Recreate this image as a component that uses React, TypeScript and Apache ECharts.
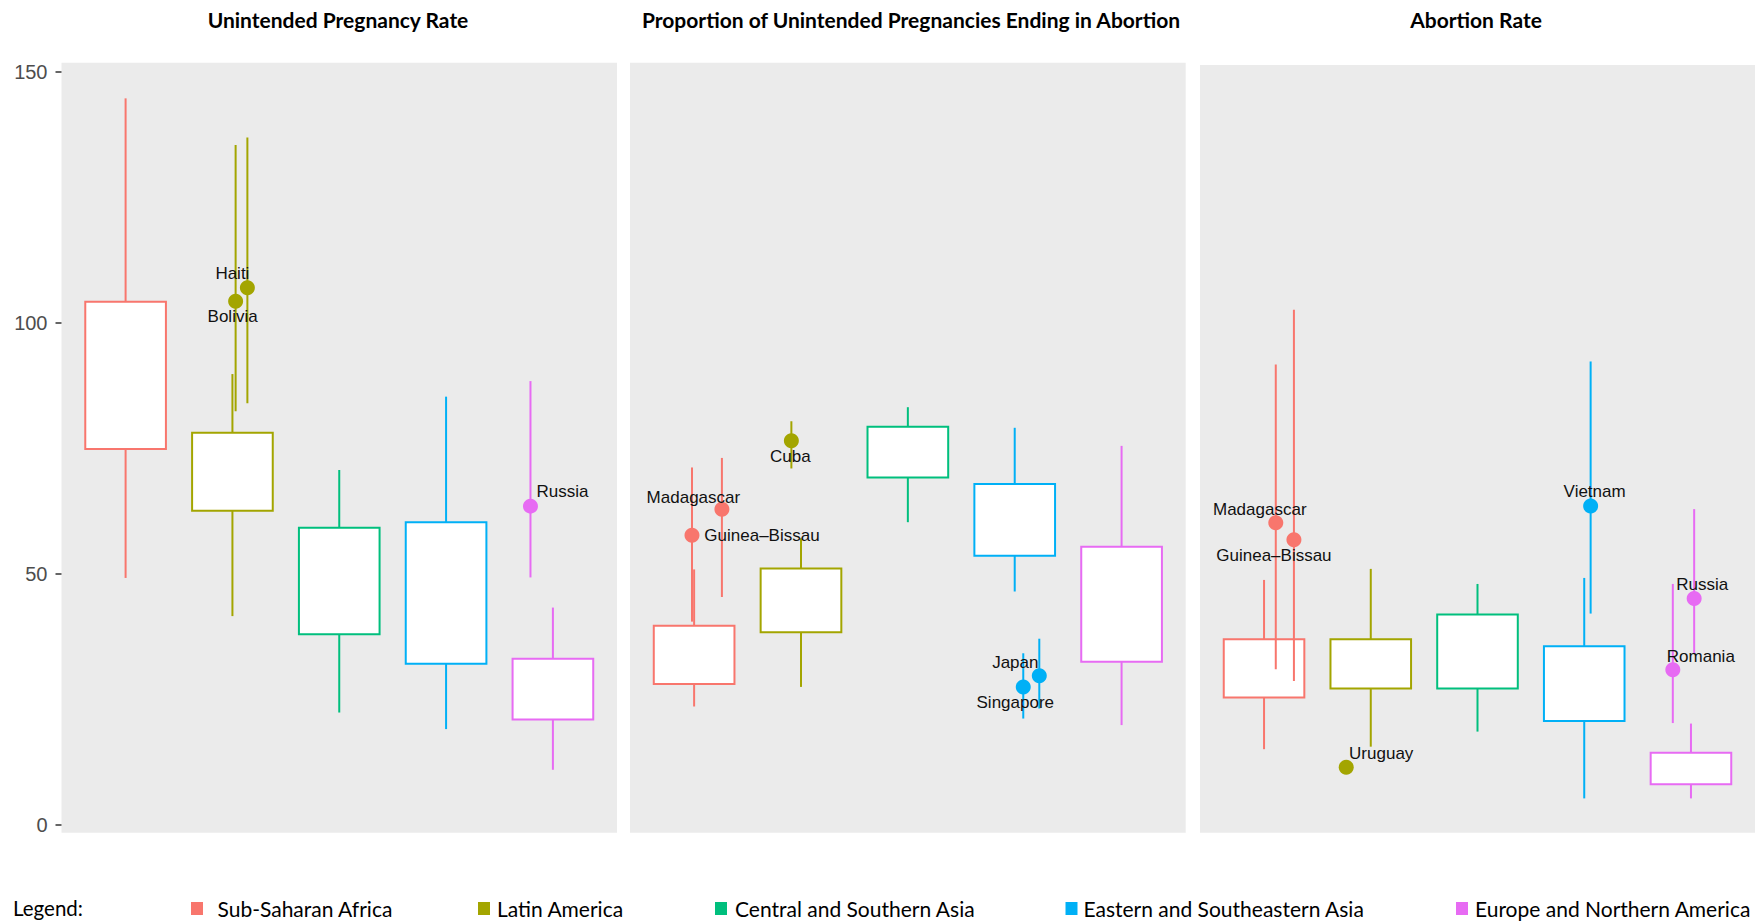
import React, { useEffect, useRef } from 'react';
import * as echarts from 'echarts';

// ---------- data ----------
const regions = [
  'Sub-Saharan Africa',
  'Latin America',
  'Central and Southern Asia',
  'Eastern and Southeastern Asia',
  'Europe and Northern America',
];
const regionColors = ['#F8766D', '#A3A500', '#00BF7D', '#00B0F6', '#E76BF3'];
const panelTitles = [
  'Unintended Pregnancy Rate',
  'Proportion of Unintended Pregnancies Ending in Abortion',
  'Abortion Rate',
];
const yTickValues = [0, 50, 100, 150];
const regionPositions = [1, 2, 3, 4, 5];

// Panel 1: Unintended Pregnancy Rate (whisker low, box low, box high, whisker high)
const upLow = [49.2, 41.6, 22.4, 19.1, 11.0];
const upQ1 = [74.9, 62.6, 38.0, 32.1, 21.0];
const upQ3 = [104.2, 78.1, 59.2, 60.3, 33.1];
const upHigh = [144.7, 89.8, 70.7, 85.3, 43.3];

// Panel 2: Proportion of Unintended Pregnancies Ending in Abortion
const propLow = [23.6, 27.5, 60.3, 46.5, 19.9];
const propQ1 = [28.1, 38.4, 69.2, 53.6, 32.5];
const propQ3 = [39.7, 51.1, 79.3, 67.9, 55.4];
const propHigh = [50.9, 57.1, 83.2, 79.1, 75.5];

// Panel 3: Abortion Rate
const abLow = [15.1, 15.6, 18.6, 5.3, 5.3];
const abQ1 = [25.4, 27.2, 27.2, 20.7, 8.1];
const abQ3 = [37.0, 37.0, 41.9, 35.6, 14.4];
const abHigh = [48.8, 51.0, 48.0, 49.2, 20.2];

// Highlighted countries
const upCountries = ['Bolivia', 'Haiti', 'Russia'];
const upCountryRegion = [1, 1, 4];
const upCountryX = [2.03, 2.14, 4.79];
const upCountryValue = [104.3, 107.0, 63.5];
const upCountryLow = [82.4, 84.0, 49.3];
const upCountryHigh = [135.4, 136.9, 88.4];

const propCountries = ['Madagascar', 'Guinea–Bissau', 'Cuba', 'Japan', 'Singapore'];
const propCountryRegion = [0, 0, 1, 3, 3];
const propCountryX = [1.26, 0.98, 1.91, 4.23, 4.08];
const propCountryValue = [62.9, 57.7, 76.5, 29.7, 27.5];
const propCountryLow = [45.4, 40.5, 71.0, 23.2, 21.2];
const propCountryHigh = [73.1, 71.2, 80.4, 37.1, 34.2];

const abCountries = ['Madagascar', 'Guinea–Bissau', 'Uruguay', 'Vietnam', 'Russia', 'Romania'];
const abCountryRegion = [0, 0, 1, 3, 4, 4];
const abCountryX = [1.11, 1.28, 1.77, 4.06, 5.03, 4.83];
const abCountryValue = [60.2, 56.8, 11.5, 63.5, 45.1, 30.9];
const abCountryLow = [31.0, 28.7, 11.5, 42.1, 34.2, 20.3];
const abCountryHigh = [91.7, 102.6, 11.5, 92.3, 62.9, 48.0];

// ---------- layout / style ----------
const labelOffsets: Record<string, number[]>[] = [
  { Bolivia: [-3, 15], Haiti: [-15, -14], Russia: [32, -14.5] },
  {
    Madagascar: [-28.5, -12],
    'Guinea–Bissau': [70, 0],
    Cuba: [-1, 16],
    Japan: [-24, -13.5],
    Singapore: [-8, 15.5],
  },
  {
    Madagascar: [-16, -13.5],
    'Guinea–Bissau': [-20, 15.5],
    Uruguay: [35, -13.5],
    Vietnam: [4, -14.5],
    Russia: [8, -14.5],
    Romania: [28, -13.5],
  },
];
const grids = [
  { left: 61.5, top: 62.7, width: 555.5, height: 770, yMax: 151.8 },
  { left: 630, top: 62.7, width: 555.7, height: 770, yMax: 151.8 },
  { left: 1200, top: 65, width: 555, height: 767.7, yMax: 151.33 },
];
const yMin = -1.53;
const titleCenters = [338, 911, 1476];
const legendIconX = [191, 478, 715, 1065.5, 1456];
const legendTextX = [217.5, 497, 735, 1083.5, 1475];
const boxWidth = 0.755;
const lineW = 2;

const panels = [
  {
    low: upLow, q1: upQ1, q3: upQ3, high: upHigh,
    cn: upCountries, cr: upCountryRegion, cx: upCountryX, cv: upCountryValue, cl: upCountryLow, ch: upCountryHigh,
  },
  {
    low: propLow, q1: propQ1, q3: propQ3, high: propHigh,
    cn: propCountries, cr: propCountryRegion, cx: propCountryX, cv: propCountryValue, cl: propCountryLow, ch: propCountryHigh,
  },
  {
    low: abLow, q1: abQ1, q3: abQ3, high: abHigh,
    cn: abCountries, cr: abCountryRegion, cx: abCountryX, cv: abCountryValue, cl: abCountryLow, ch: abCountryHigh,
  },
];

function buildOption() {
  const series: any[] = [];
  panels.forEach((p, pi) => {
    regions.forEach((reg, ri) => {
      const color = regionColors[ri];
      // box
      series.push({
        type: 'custom',
        name: reg,
        xAxisIndex: pi,
        yAxisIndex: pi,
        z: 2,
        itemStyle: { color },
        encode: { x: 0, y: [1, 2, 3, 4] },
        data: [[regionPositions[ri], p.low[ri], p.q1[ri], p.q3[ri], p.high[ri]]],
        renderItem: (params: any, api: any) => {
          const x = api.value(0);
          const pLo = api.coord([x, api.value(1)]);
          const pQ1 = api.coord([x, api.value(2)]);
          const pQ3 = api.coord([x, api.value(3)]);
          const pHi = api.coord([x, api.value(4)]);
          const w = api.size([boxWidth, 0])[0];
          return {
            type: 'group',
            children: [
              { type: 'line', shape: { x1: pLo[0], y1: pLo[1], x2: pQ1[0], y2: pQ1[1] }, style: { stroke: color, lineWidth: lineW } },
              { type: 'line', shape: { x1: pQ3[0], y1: pQ3[1], x2: pHi[0], y2: pHi[1] }, style: { stroke: color, lineWidth: lineW } },
              {
                type: 'rect',
                shape: { x: pQ3[0] - w / 2, y: pQ3[1], width: w, height: pQ1[1] - pQ3[1] },
                style: { fill: '#ffffff', stroke: color, lineWidth: lineW },
              },
            ],
          };
        },
      });
      // country error bars + points
      const idx = p.cr.map((r, i) => (r === ri ? i : -1)).filter((i) => i >= 0);
      if (idx.length) {
        series.push({
          type: 'custom',
          name: reg,
          xAxisIndex: pi,
          yAxisIndex: pi,
          z: 3,
          itemStyle: { color },
          encode: { x: 0, y: [1, 2] },
          data: idx.map((i) => [p.cx[i], p.cl[i], p.ch[i]]),
          renderItem: (params: any, api: any) => {
            const x = api.value(0);
            const a = api.coord([x, api.value(1)]);
            const b = api.coord([x, api.value(2)]);
            return { type: 'line', shape: { x1: a[0], y1: a[1], x2: b[0], y2: b[1] }, style: { stroke: color, lineWidth: lineW } };
          },
        });
        series.push({
          type: 'scatter',
          name: reg,
          xAxisIndex: pi,
          yAxisIndex: pi,
          z: 4,
          symbol: 'circle',
          symbolSize: 15,
          itemStyle: { color, opacity: 1 },
          data: idx.map((i) => ({
            name: p.cn[i],
            value: [p.cx[i], p.cv[i]],
            label: {
              show: true,
              position: 'inside',
              offset: labelOffsets[pi][p.cn[i]] || [0, 0],
              formatter: p.cn[i],
              color: '#111111',
              fontSize: 17,
              fontFamily: 'Liberation Sans, Arial, sans-serif',
            },
          })),
        });
      }
    });
  });

  const graphic: any[] = panelTitles.map((t, i) => ({
    type: 'text',
    x: titleCenters[i],
    y: 19,
    style: {
      text: t,
      align: 'center',
      verticalAlign: 'middle',
      fontFamily: 'Lato, sans-serif',
      fontWeight: 'bold',
      fontSize: 21,
      fill: '#000000',
    },
  }));
  graphic.push({
    type: 'text',
    x: 13,
    y: 908,
    style: {
      text: 'Legend:',
      align: 'left',
      verticalAlign: 'middle',
      fontFamily: 'Lato, sans-serif',
      fontSize: 20.5,
      fill: '#000000',
    },
  });

  const legend = regions.map((reg, i) => ({
    data: [reg],
    left: legendIconX[i],
    top: 898,
    padding: 0,
    icon: 'rect',
    itemWidth: 12,
    itemHeight: 13,
    selectedMode: false,
    textStyle: {
      fontFamily: 'Lato, sans-serif',
      fontSize: 21,
      color: '#000000',
      lineHeight: 20,
      padding: [0, 0, 0, Math.max(0, legendTextX[i] - legendIconX[i] - 12 - 5)],
    },
  }));

  return {
    animation: false,
    backgroundColor: '#ffffff',
    grid: grids.map((g) => ({
      left: g.left,
      top: g.top,
      width: g.width,
      height: g.height,
      show: true,
      backgroundColor: '#EBEBEB',
      borderWidth: 0,
    })),
    xAxis: grids.map((g, i) => ({
      type: 'value',
      gridIndex: i,
      min: 0.4,
      max: 5.6,
      show: false,
    })),
    yAxis: grids.map((g, i) => ({
      type: 'value',
      gridIndex: i,
      min: yMin,
      max: g.yMax,
      show: i === 0,
      axisLine: { show: false },
      splitLine: { show: false },
      axisTick: {
        show: i === 0,
        length: 6,
        customValues: yTickValues,
        lineStyle: { color: '#333333', width: 1.5 },
      },
      axisLabel: {
        show: i === 0,
        customValues: yTickValues,
        margin: 14,
        fontSize: 20,
        color: '#4D4D4D',
        fontFamily: 'Liberation Sans, Arial, sans-serif',
      },
    })),
    legend,
    graphic,
    series,
  };
}

export default function App() {
  const ref = useRef<HTMLDivElement>(null);
  useEffect(() => {
    if (!ref.current) return;
    const chart = echarts.init(ref.current, undefined, { renderer: 'svg' });
    chart.setOption(buildOption() as any);
    return () => chart.dispose();
  }, []);
  return (
    <div
      ref={ref}
      style={{ position: 'absolute', left: 0, top: 0, width: 1755, height: 921, background: '#fff' }}
    />
  );
}
